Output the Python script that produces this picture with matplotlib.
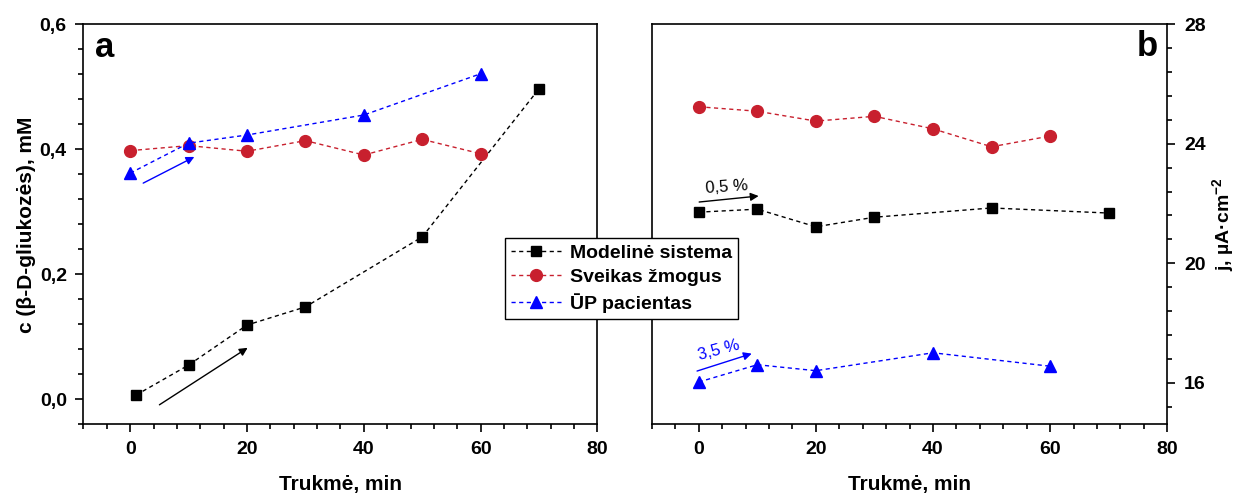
import matplotlib.pyplot as plt
from matplotlib.ticker import MultipleLocator, AutoMinorLocator, FuncFormatter

plt.rcParams['font.family'] = ['Liberation Sans', 'DejaVu Sans']
plt.rcParams['mathtext.fontset'] = 'custom'
plt.rcParams['mathtext.bf'] = 'Liberation Sans:bold'
plt.rcParams['mathtext.rm'] = 'Liberation Sans'
plt.rcParams['mathtext.default'] = 'bf'

# panel a: glucose concentration, mM
t_model_a = [1, 10, 20, 30, 50, 70]
c_model = [0.007, 0.055, 0.119, 0.148, 0.26, 0.497]
t_healthy_a = [0, 10, 20, 30, 40, 50, 60]
c_healthy = [0.398, 0.406, 0.397, 0.414, 0.391, 0.416, 0.393]
t_patient_a = [0, 10, 20, 40, 60]
c_patient = [0.362, 0.41, 0.423, 0.455, 0.521]

# panel b: current density, uA/cm2
t_model_b = [0, 10, 20, 30, 50, 70]
j_model = [21.71, 21.81, 21.22, 21.54, 21.85, 21.68]
t_healthy_b = [0, 10, 20, 30, 40, 50, 60]
j_healthy = [25.24, 25.09, 24.76, 24.92, 24.50, 23.90, 24.26]
t_patient_b = [0, 10, 20, 40, 60]
j_patient = [16.02, 16.6, 16.40, 17.0, 16.55]

labels = ['Modelinė sistema', 'Sveikas žmogus', 'ŪP pacientas']
red = '#c8202e'
dash = (0, (3, 2.5))

fig = plt.figure(figsize=(12.37, 4.97), dpi=100)
ax1 = fig.add_axes([0.0675, 0.146, 0.4155, 0.805])
ax2 = fig.add_axes([0.527, 0.146, 0.4166, 0.805])

def comma(v, pos):
    return ('%.1f' % v).replace('.', ',')

for ax in (ax1, ax2):
    ax.set_xlim(-8, 80)
    ax.xaxis.set_major_locator(MultipleLocator(20))
    ax.xaxis.set_minor_locator(AutoMinorLocator(5))
    ax.yaxis.set_minor_locator(AutoMinorLocator(5))
    for s in ax.spines.values():
        s.set_linewidth(1.2)
    ax.tick_params(which='major', length=6, width=1.2, pad=6, labelsize=14)
    ax.tick_params(which='minor', length=3.5, width=1.2)
    for lab in ax.get_xticklabels() + ax.get_yticklabels():
        lab.set_fontweight('bold')
    ax.set_xlabel('Trukmė, min', fontsize=15, fontweight='bold', labelpad=12)

# left panel
l1, = ax1.plot(t_model_a, c_model, ls=dash, lw=1, color='black', marker='s', ms=7)
l2, = ax1.plot(t_healthy_a, c_healthy, ls=dash, lw=1, color=red, marker='o', ms=8.5)
l3, = ax1.plot(t_patient_a, c_patient, ls=dash, lw=1, color='blue', marker='^', ms=9)
ax1.set_ylim(-0.04, 0.6)
ax1.yaxis.set_major_locator(MultipleLocator(0.2))
ax1.yaxis.set_major_formatter(FuncFormatter(comma))
ax1.set_ylabel('c (β-D-gliukozės), mM', fontsize=15, fontweight='bold', labelpad=3)
ax1.annotate('', xy=(20.5, 0.085), xytext=(4.6, -0.011),
             arrowprops=dict(arrowstyle='-|>', color='black', lw=1, mutation_scale=12))
ax1.annotate('', xy=(11.4, 0.39), xytext=(1.8, 0.344),
             arrowprops=dict(arrowstyle='-|>', color='blue', lw=1, mutation_scale=12))
ax1.text(0.022, 0.919, 'a', transform=ax1.transAxes, fontsize=25, fontweight='bold',
         va='baseline', ha='left')

# right panel
ax2.plot(t_model_b, j_model, ls=dash, lw=1, color='black', marker='s', ms=7)
ax2.plot(t_healthy_b, j_healthy, ls=dash, lw=1, color=red, marker='o', ms=8.5)
ax2.plot(t_patient_b, j_patient, ls=dash, lw=1, color='blue', marker='^', ms=9)
ax2.set_ylim(14.6, 28)
ax2.yaxis.set_major_locator(MultipleLocator(4))
ax2.yaxis.tick_right()
ax2.yaxis.set_label_position('right')
for lab in ax2.get_yticklabels():
    lab.set_fontweight('bold')
ax2.set_ylabel(r'j, µA·cm$^{-2}$', fontsize=14, fontweight='bold', labelpad=3)
ax2.annotate('', xy=(10.7, 22.26), xytext=(-0.4, 22.04),
             arrowprops=dict(arrowstyle='-|>', color='black', lw=1, mutation_scale=12))
ax2.text(4.8, 22.55, '0,5 %', fontsize=12, color='black', ha='center', va='center', rotation=4)
ax2.annotate('', xy=(9.5, 17.0), xytext=(-0.74, 16.36),
             arrowprops=dict(arrowstyle='-|>', color='blue', lw=1, mutation_scale=12))
ax2.text(3.5, 17.08, '3,5 %', fontsize=12, color='blue', ha='center', va='center', rotation=15)
ax2.text(0.982, 0.921, 'b', transform=ax2.transAxes, fontsize=25, fontweight='bold',
         va='baseline', ha='right')

leg = fig.legend([l1, l2, l3], labels, loc='upper left', bbox_to_anchor=(0.408, 0.5205),
                 borderaxespad=0, fancybox=False, framealpha=1, edgecolor='black',
                 handlelength=2.6, handletextpad=0.45, labelspacing=0.35, borderpad=0.3,
                 prop={'size': 14, 'weight': 'bold'})
leg.get_frame().set_linewidth(1)

fig.savefig('out.png', dpi=100)
